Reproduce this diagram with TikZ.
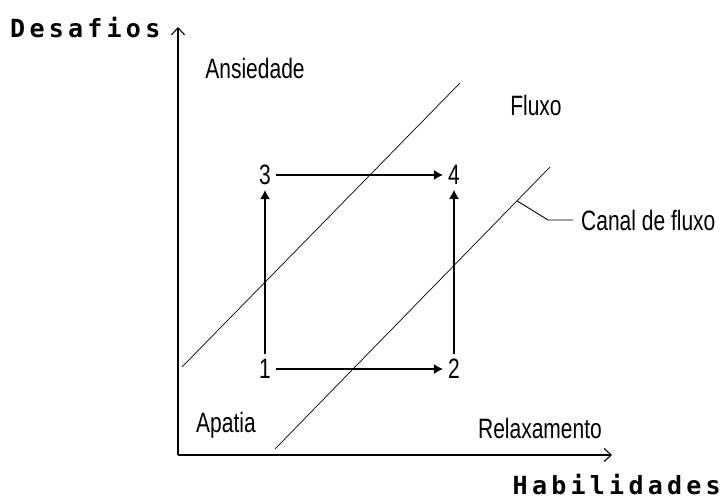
\documentclass[tikz,border=0pt]{standalone}
\usepackage{fontspec}
\newfontfamily\axisfont{DejaVu Sans Mono}[LetterSpace=17]
\newfontfamily\zonefont{Liberation Sans}[FakeStretch=0.75]
\usetikzlibrary{positioning, arrows.meta, calc}

\begin{document}
\begin{tikzpicture}[
		x=1pt, y=1pt,
		% Axis labels (bold, spaced)
		axislabel/.style={font=\axisfont\bfseries\fontsize{25}{27}\selectfont, inner sep=0pt},
		% Zone labels and state numbers
		zonelabel/.style={font=\zonefont\fontsize{28}{30}\selectfont, inner sep=0pt},
		statenum/.style={font=\zonefont\fontsize{28}{30}\selectfont, inner sep=5pt},
		% Lines
		axisline/.style={line width=1.3pt, -{Straight Barb[length=7pt, width=13pt, line width=1.1pt]}},
		moveline/.style={line width=1.3pt, -{Latex[length=9pt, width=10pt]}},
		channelline/.style={line width=0.7pt},
		leaderline/.style={line width=0.9pt}
	]
	\useasboundingbox (0,0) rectangle (723,501);

	% ==========================================
	% 1. AXES
	% ==========================================
	\coordinate (origin) at (178, 46);
	\coordinate (ytop) at (178, 474);
	\coordinate (xend) at (612, 46);
	\draw[axisline] (origin) -- (ytop);
	\draw[axisline] (origin) -- (xend);

	\node[axislabel, anchor=west] (desafios) at (10, 473) {Desafios};
	\node[axislabel, anchor=east] (habilidades) at (721, 16) {Habilidades};

	% ==========================================
	% 2. FLOW CHANNEL (two diagonals)
	% ==========================================
	\coordinate (upperA) at (182, 134);
	\coordinate (upperB) at (460, 418);
	\coordinate (lowerA) at (275, 52);
	\coordinate (lowerB) at (550, 334);
	\draw[channelline] (upperA) -- (upperB);
	\draw[channelline] (lowerA) -- (lowerB);

	% ==========================================
	% 3. ZONE LABELS
	% ==========================================
	\node[zonelabel] (ansiedade) at (255, 433) {Ansiedade};
	\node[zonelabel] (fluxo) at (536, 396) {Fluxo};
	\node[zonelabel] (apatia) at (226, 76) {Apatia};
	\node[zonelabel] (relaxamento) at (540, 73) {Relaxamento};

	% Channel callout
	\coordinate (canalpt) at ($(lowerA)!0.88!(lowerB)$);
	\node[zonelabel, anchor=west] (canal) at (581, 281) {Canal de fluxo};
	\draw[leaderline] (canalpt) -- (548, 281) -- ([xshift=-8pt]canal.west);

	% ==========================================
	% 4. STATES AND MOVES
	% ==========================================
	\node[statenum] (s1) at (265, 132) {1};
	\node[statenum] (s2) at (454, 132) {2};
	\node[statenum] (s3) at (265, 326) {3};
	\node[statenum] (s4) at (454, 326) {4};

	\draw[moveline] (s1) -- (s2);
	\draw[moveline] (s3) -- (s4);
	\draw[moveline] (s1) -- (s3);
	\draw[moveline] (s2) -- (s4);

\end{tikzpicture}
\end{document}
